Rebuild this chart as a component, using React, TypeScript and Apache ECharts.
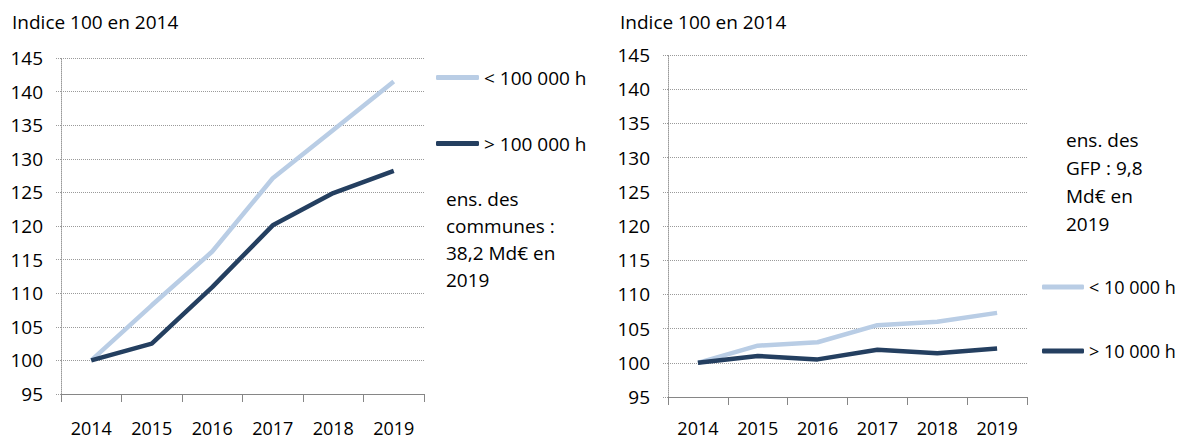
import React, { useEffect, useRef } from "react";
import * as echarts from "echarts";

const years = ["2014", "2015", "2016", "2017", "2018", "2019"];
const communesSmall = [100, 108.2, 116.2, 127.1, 134.3, 141.5];
const communesLarge = [100, 102.5, 110.9, 120.1, 124.9, 128.2];
const gfpSmall = [100, 102.5, 103.0, 105.5, 106.0, 107.3];
const gfpLarge = [100, 101.0, 100.5, 101.9, 101.4, 102.1];

const LIGHT = "#B9CDE5";
const DARK = "#243F60";
const FONT = "Open Sans";
const FS = 19;

function yAxis(gridIndex: number) {
  return {
    type: "value",
    gridIndex,
    min: 95,
    max: 145,
    interval: 5,
    axisLine: { show: true, lineStyle: { color: "#9a9a9a", type: "dotted", width: 1 } },
    axisTick: { show: true, length: 6, lineStyle: { color: "#9a9a9a", type: "dotted" } },
    axisLabel: { color: "#000", fontFamily: FONT, fontSize: FS, margin: 18 },
    splitLine: { show: true, lineStyle: { color: "#9a9a9a", type: "dotted", width: 1 } },
  };
}

function xAxis(gridIndex: number, margin: number) {
  return {
    type: "category",
    gridIndex,
    data: years,
    boundaryGap: true,
    axisLine: { show: true, lineStyle: { color: "#868686", width: 1 } },
    axisTick: { show: true, length: 8, alignWithLabel: false, lineStyle: { color: "#868686" } },
    axisLabel: { color: "#000", fontFamily: FONT, fontSize: 18, margin, lineHeight: 14 },
    splitLine: { show: false },
  };
}

function line(name: string, data: number[], color: string, idx: number) {
  return {
    type: "line",
    name,
    data,
    xAxisIndex: idx,
    yAxisIndex: idx,
    symbol: "none",
    lineStyle: { color, width: 4.5 },
    itemStyle: { color },
    z: color === LIGHT ? 2 : 3,
  };
}

export default function App() {
  const ref = useRef<HTMLDivElement>(null);
  useEffect(() => {
    if (!ref.current) return;
    const chart = echarts.init(ref.current, null, { renderer: "svg" });
    const textStyle = { fill: "#000", font: `${FS}px "${FONT}"` };
    const legendBase = {
      orient: "vertical",
      itemHeight: 5,
      icon: "roundRect",
    };
    chart.setOption({
      animation: false,
      backgroundColor: "#fff",
      grid: [
        { left: 61, top: 58, width: 363, height: 336 },
        { left: 668, top: 55, width: 359, height: 342 },
      ],
      xAxis: [xAxis(0, 27), xAxis(1, 24)],
      yAxis: [yAxis(0), yAxis(1)],
      legend: [
        {
          ...legendBase,
          data: ["< 100 000 h", "> 100 000 h"],
          left: 431,
          top: 63,
          itemWidth: 43,
          itemGap: 47,
          textStyle: { color: "#000", fontFamily: FONT, fontSize: FS },
        },
        {
          ...legendBase,
          data: ["< 10 000 h", "> 10 000 h"],
          left: 1037,
          top: 273,
          itemWidth: 42,
          itemGap: 46,
          textStyle: { color: "#000", fontFamily: FONT, fontSize: 18 },
        },
      ],
      graphic: [
        { type: "text", left: 12, top: 12, style: { ...textStyle, text: "Indice 100 en 2014" } },
        { type: "text", left: 620, top: 12, style: { ...textStyle, text: "Indice 100 en 2014" } },
        {
          type: "text",
          left: 446,
          top: 185,
          style: { ...textStyle, text: "ens. des\ncommunes :\n38,2 Md€ en\n2019", lineHeight: 27 },
        },
        {
          type: "text",
          left: 1066,
          top: 126,
          style: { ...textStyle, text: "ens. des\nGFP : 9,8\nMd€ en\n2019", lineHeight: 28 },
        },
      ],
      series: [
        line("< 100 000 h", communesSmall, LIGHT, 0),
        line("> 100 000 h", communesLarge, DARK, 0),
        line("< 10 000 h", gfpSmall, LIGHT, 1),
        line("> 10 000 h", gfpLarge, DARK, 1),
      ],
    });
    return () => chart.dispose();
  }, []);
  return (
    <div
      ref={ref}
      style={{ position: "absolute", left: 0, top: 0, width: 1178, height: 439 }}
    />
  );
}
